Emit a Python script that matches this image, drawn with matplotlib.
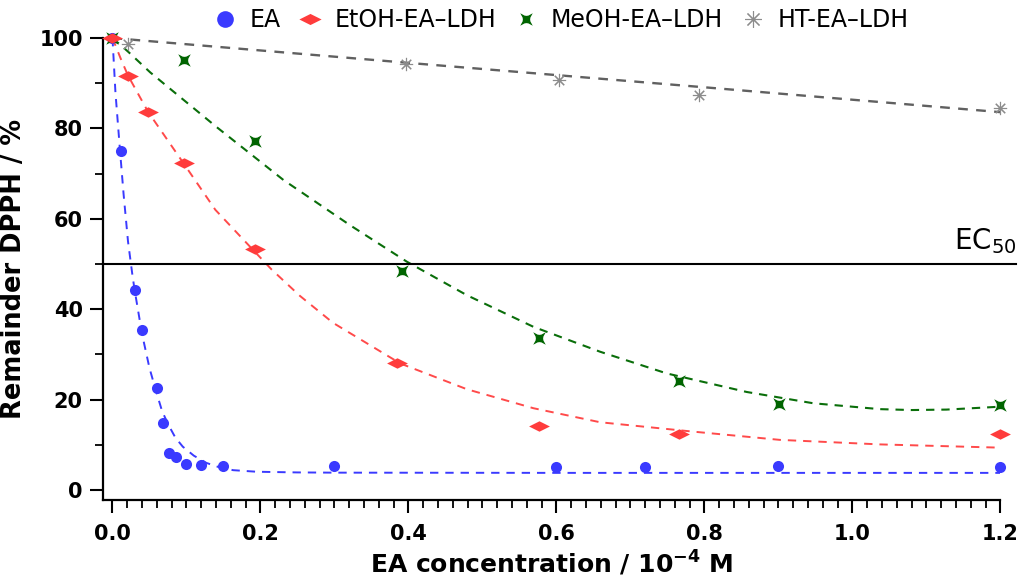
import matplotlib
matplotlib.use('Agg')
import matplotlib.pyplot as plt
from matplotlib.path import Path
from matplotlib.lines import Line2D
from matplotlib.ticker import MultipleLocator

# measured points
ea_x = [0.0, 0.012, 0.030, 0.040, 0.060, 0.068, 0.076, 0.086, 0.100, 0.120, 0.150, 0.300, 0.600, 0.720, 0.900, 1.200]
ea_y = [100.0, 75.0, 44.2, 35.3, 22.6, 14.9, 8.3, 7.3, 5.8, 5.5, 5.4, 5.4, 5.2, 5.2, 5.4, 5.0]

etoh_x = [0.0, 0.021, 0.048, 0.096, 0.192, 0.384, 0.576, 0.766, 1.200]
etoh_y = [100.0, 91.7, 83.6, 72.3, 53.4, 28.2, 14.2, 12.3, 12.3]

meoh_x = [0.0, 0.096, 0.192, 0.391, 0.576, 0.766, 0.901, 1.200]
meoh_y = [100.0, 95.1, 77.2, 48.5, 33.7, 24.2, 19.1, 18.9]

ht_x = [0.021, 0.397, 0.604, 0.793, 1.200]
ht_y = [98.7, 94.3, 90.7, 87.5, 84.6]

# fitted curves
ea_fit_x = [0.0, 0.004, 0.010, 0.015, 0.021, 0.027, 0.030, 0.040, 0.050, 0.059, 0.067,
            0.075, 0.085, 0.095, 0.110, 0.127, 0.145, 0.163, 0.195, 0.250, 0.300, 0.600, 0.900, 1.200]
ea_fit_y = [100.0, 88.0, 75.5, 65.5, 55.0, 47.5, 44.2, 34.5, 27.0, 21.8, 17.5,
            14.6, 11.6, 9.6, 7.6, 6.0, 5.0, 4.4, 4.05, 3.9, 3.85, 3.8, 3.8, 3.8]

etoh_fit_x = [0.0, 0.011, 0.021, 0.048, 0.096, 0.139, 0.193, 0.215, 0.253, 0.298, 0.389,
              0.479, 0.569, 0.659, 0.780, 0.902, 1.037, 1.195]
etoh_fit_y = [100.0, 95.5, 91.7, 83.7, 72.3, 62.0, 52.6, 48.8, 43.0, 37.0, 28.0,
              22.3, 18.1, 15.0, 13.0, 11.1, 10.1, 9.4]

meoh_fit_x = [0.0, 0.021, 0.051, 0.091, 0.140, 0.231, 0.321, 0.398, 0.479, 0.569, 0.659,
              0.749, 0.857, 0.947, 1.037, 1.080, 1.127, 1.195]
meoh_fit_y = [100.0, 97.0, 92.4, 87.0, 80.4, 68.6, 58.6, 50.5, 43.1, 36.1, 30.6,
              25.8, 21.7, 19.2, 17.9, 17.7, 17.8, 18.4]

ht_fit_x = [0.0, 0.4, 0.8, 1.2]
ht_fit_y = [100.0, 94.5, 89.1, 83.6]

ec50 = 50

labels = ['EA', 'EtOH-EA\u2013LDH', 'MeOH-EA\u2013LDH', 'HT-EA\u2013LDH']
colors = ['#3a3aff', '#ff3c3c', '#006400', '#8c8c8c']
line_colors = ['#3a3aff', '#ff4a4a', '#0a6e0a', '#606060']


def main():
    plt.rcParams['font.family'] = 'DejaVu Sans'
    plt.rcParams['lines.scale_dashes'] = False

    wide_diamond = Path([(-2, 0), (0, 1), (2, 0), (0, -1), (-2, 0)],
                        [Path.MOVETO, Path.LINETO, Path.LINETO, Path.LINETO, Path.CLOSEPOLY])
    sparkle = Path([(1, 1), (0.3, 0.62), (0, 0.58), (-0.3, 0.62), (-1, 1),
                    (-0.62, 0.3), (-0.58, 0), (-0.62, -0.3), (-1, -1),
                    (-0.3, -0.62), (0, -0.58), (0.3, -0.62), (1, -1),
                    (0.62, -0.3), (0.58, 0), (0.62, 0.3), (1, 1)],
                   [Path.MOVETO] + [Path.LINETO] * 15 + [Path.CLOSEPOLY])
    asterisk = (8, 2, 0)

    fig = plt.figure(figsize=(10.31, 5.85), dpi=100)
    ax = fig.add_axes([0.0999, 0.1453, 0.8705, 0.7897])

    dash = (0, (6, 5))
    ax.plot(ea_fit_x, ea_fit_y, color=line_colors[0], lw=1.4, linestyle=dash, zorder=2)
    ax.plot(etoh_fit_x, etoh_fit_y, color=line_colors[1], lw=1.4, linestyle=dash, zorder=2)
    ax.plot(meoh_fit_x, meoh_fit_y, color=line_colors[2], lw=1.5, linestyle=dash, zorder=2)
    ax.plot(ht_fit_x, ht_fit_y, color=line_colors[3], lw=1.7, linestyle=(0, (7, 6)), zorder=2)

    ax.plot(ea_x, ea_y, 'o', color=colors[0], ms=8, mec='none', zorder=3, clip_on=False)
    ax.plot(meoh_x, meoh_y, linestyle='none', marker=sparkle, color=colors[2], ms=9,
            mec='none', zorder=3, clip_on=False)
    ax.plot(etoh_x, etoh_y, linestyle='none', marker=wide_diamond, color=colors[1], ms=15,
            mec='none', zorder=4, clip_on=False)
    ax.plot(ht_x, ht_y, linestyle='none', marker=asterisk, color=colors[3], ms=9.5,
            mew=0.8, zorder=4, clip_on=False)

    # EC50 reference line
    ax.plot([-0.0128, 1.221], [ec50, ec50], color='black', lw=1.5, zorder=5, clip_on=False)
    ax.text(1.221, ec50 + 1.8, 'EC$_{50}$', ha='right', va='bottom', fontsize=20)

    ax.set_xlim(-0.0128, 1.2)
    ax.set_ylim(-2.2, 100)
    ax.xaxis.set_major_locator(MultipleLocator(0.2))
    ax.xaxis.set_minor_locator(MultipleLocator(0.02))
    ax.yaxis.set_major_locator(MultipleLocator(20))
    ax.yaxis.set_minor_locator(MultipleLocator(10))
    ax.xaxis.set_major_formatter(matplotlib.ticker.FormatStrFormatter('%.1f'))

    for side in ['top', 'right']:
        ax.spines[side].set_visible(False)
    for side in ['left', 'bottom']:
        ax.spines[side].set_linewidth(1.6)

    ax.tick_params(which='major', direction='out', length=9.5, width=1.5)
    ax.tick_params(which='minor', direction='out', length=5.5, width=1.3)
    ax.tick_params(axis='x', which='major', pad=8)
    ax.tick_params(axis='y', which='major', pad=5)
    for lab in ax.get_xticklabels() + ax.get_yticklabels():
        lab.set_fontsize(15)
        lab.set_fontweight('bold')

    ax.set_xlabel('EA concentration / 10$^{\\mathbf{-4}}$ M', fontsize=18,
                  fontweight='bold', labelpad=3)
    ax.set_ylabel('Remainder DPPH / %', fontsize=18.5, fontweight='bold', labelpad=9)

    handles = [
        Line2D([], [], linestyle='none', marker='o', color=colors[0], ms=12, mec='none'),
        Line2D([], [], linestyle='none', marker=wide_diamond, color=colors[1], ms=16, mec='none'),
        Line2D([], [], linestyle='none', marker=sparkle, color=colors[2], ms=9, mec='none'),
        Line2D([], [], linestyle='none', marker=asterisk, color=colors[3], ms=12, mew=0.8),
    ]
    fig.legend(handles, labels, loc='center', bbox_to_anchor=(560 / 1031, 1 - 20 / 585),
               ncol=4, frameon=False, fontsize=17, handlelength=1.1, handletextpad=0.5,
               columnspacing=0.7, borderaxespad=0)

    fig.savefig('out.png', dpi=100)
    plt.close(fig)


if __name__ == '__main__':
    main()
